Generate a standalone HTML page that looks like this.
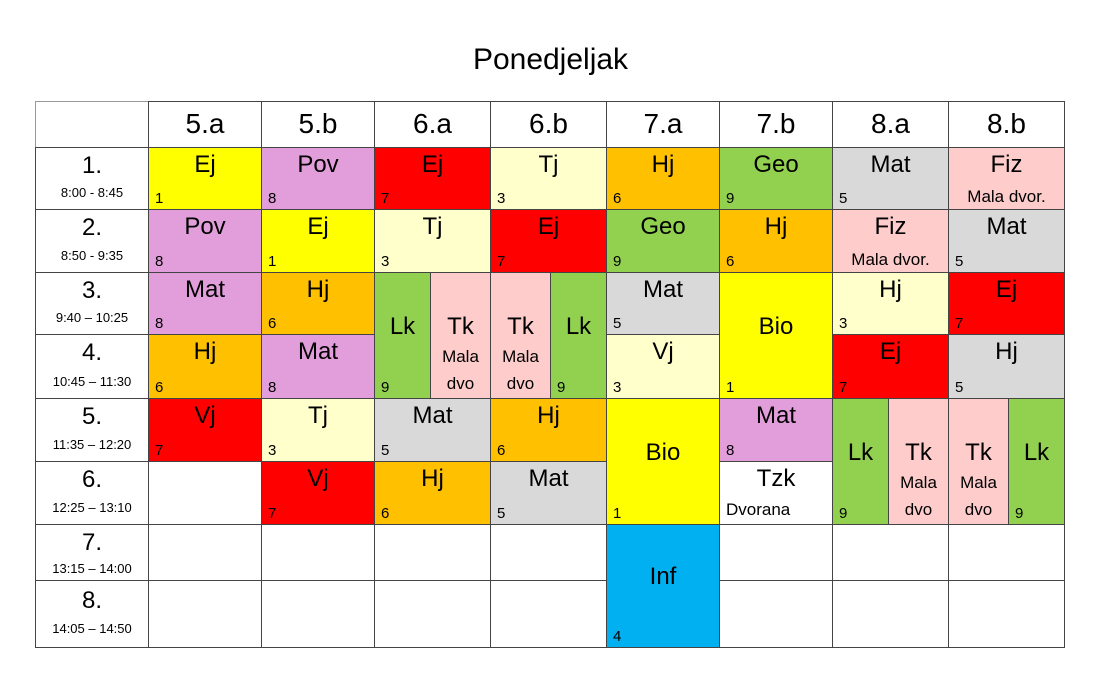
<!DOCTYPE html>
<html><head><meta charset="utf-8"><style>
body{margin:0;width:1101px;height:694px;background:#fff;font-family:"Liberation Sans",sans-serif;position:relative;overflow:hidden}
.c{position:absolute;box-sizing:border-box;border:1px solid #444;color:#000}
.t{position:absolute;left:0;right:0;text-align:center;font-size:24px;line-height:28px;top:3px}
.n{position:absolute;left:6px;bottom:2px;font-size:15px;line-height:17px}
.s{position:absolute;left:0;right:0;text-align:center;font-size:17px;line-height:20px}
.h{font-size:28px;line-height:44px;text-align:center}
.y{background:#ffff00}.p{background:#e29eda}.r{background:#ff0000}.ly{background:#ffffcc}.o{background:#ffc000}.g{background:#92d050}.gr{background:#d9d9d9}.lp{background:#ffcccc}.b{background:#00b0f0}
.tm .t{top:4px}
.tm .s{font-size:13px;bottom:6px}
</style></head><body>
<div style="position:absolute;left:0;width:1101px;top:43px;text-align:center;font-size:30px">Ponedjeljak</div>
<div style="position:absolute;left:35px;top:101px;width:1030px;height:547px;border:1px solid #999;box-sizing:border-box"></div>

<div class="c" style="left:35px;top:101px;width:114px;height:47px;border-color:#999"></div>
<div class="c h" style="left:148px;top:101px;width:114px;height:47px">5.a</div>
<div class="c h" style="left:261px;top:101px;width:114px;height:47px">5.b</div>
<div class="c h" style="left:374px;top:101px;width:117px;height:47px">6.a</div>
<div class="c h" style="left:490px;top:101px;width:117px;height:47px">6.b</div>
<div class="c h" style="left:606px;top:101px;width:114px;height:47px">7.a</div>
<div class="c h" style="left:719px;top:101px;width:114px;height:47px">7.b</div>
<div class="c h" style="left:832px;top:101px;width:117px;height:47px">8.a</div>
<div class="c h" style="left:948px;top:101px;width:117px;height:47px">8.b</div>

<div class="c tm" style="left:35px;top:147px;width:114px;height:63px"><div class="t">1.</div><div class="s" style="bottom:6px">8:00 - 8:45</div></div>
<div class="c tm" style="left:35px;top:209px;width:114px;height:64px"><div class="t">2.</div><div class="s" style="bottom:6px">8:50 - 9:35</div></div>
<div class="c tm" style="left:35px;top:272px;width:114px;height:63px"><div class="t">3.</div><div class="s" style="bottom:6px">9:40 – 10:25</div></div>
<div class="c tm" style="left:35px;top:334px;width:114px;height:65px"><div class="t">4.</div><div class="s" style="bottom:6px">10:45 – 11:30</div></div>
<div class="c tm" style="left:35px;top:398px;width:114px;height:64px"><div class="t">5.</div><div class="s" style="bottom:6px">11:35 – 12:20</div></div>
<div class="c tm" style="left:35px;top:461px;width:114px;height:64px"><div class="t">6.</div><div class="s" style="bottom:6px">12:25 – 13:10</div></div>
<div class="c tm" style="left:35px;top:524px;width:114px;height:57px"><div class="t">7.</div><div class="s" style="bottom:1px">13:15 – 14:00</div></div>
<div class="c tm" style="left:35px;top:580px;width:114px;height:68px"><div class="t" style="top:6px">8.</div><div class="s" style="bottom:8px">14:05 – 14:50</div></div>

<div class="c y" style="left:148px;top:147px;width:114px;height:63px"><div class="t">Ej</div><div class="n">1</div></div>
<div class="c p" style="left:261px;top:147px;width:114px;height:63px"><div class="t">Pov</div><div class="n">8</div></div>
<div class="c r" style="left:374px;top:147px;width:117px;height:63px"><div class="t">Ej</div><div class="n">7</div></div>
<div class="c ly" style="left:490px;top:147px;width:117px;height:63px"><div class="t">Tj</div><div class="n">3</div></div>
<div class="c o" style="left:606px;top:147px;width:114px;height:63px"><div class="t">Hj</div><div class="n">6</div></div>
<div class="c g" style="left:719px;top:147px;width:114px;height:63px"><div class="t">Geo</div><div class="n">9</div></div>
<div class="c gr" style="left:832px;top:147px;width:117px;height:63px"><div class="t">Mat</div><div class="n">5</div></div>
<div class="c lp" style="left:948px;top:147px;width:117px;height:63px"><div class="t">Fiz</div><div class="s" style="bottom:2px">Mala dvor.</div></div>
<div class="c p" style="left:148px;top:209px;width:114px;height:64px"><div class="t">Pov</div><div class="n">8</div></div>
<div class="c y" style="left:261px;top:209px;width:114px;height:64px"><div class="t">Ej</div><div class="n">1</div></div>
<div class="c ly" style="left:374px;top:209px;width:117px;height:64px"><div class="t">Tj</div><div class="n">3</div></div>
<div class="c r" style="left:490px;top:209px;width:117px;height:64px"><div class="t">Ej</div><div class="n">7</div></div>
<div class="c g" style="left:606px;top:209px;width:114px;height:64px"><div class="t">Geo</div><div class="n">9</div></div>
<div class="c o" style="left:719px;top:209px;width:114px;height:64px"><div class="t">Hj</div><div class="n">6</div></div>
<div class="c lp" style="left:832px;top:209px;width:117px;height:64px"><div class="t">Fiz</div><div class="s" style="bottom:2px">Mala dvor.</div></div>
<div class="c gr" style="left:948px;top:209px;width:117px;height:64px"><div class="t">Mat</div><div class="n">5</div></div>
<div class="c p" style="left:148px;top:272px;width:114px;height:63px"><div class="t">Mat</div><div class="n">8</div></div>
<div class="c o" style="left:261px;top:272px;width:114px;height:63px"><div class="t">Hj</div><div class="n">6</div></div>
<div class="c g" style="left:374px;top:272px;width:57px;height:127px"><div class="t" style="top:40px">Lk</div><div class="n">9</div></div>
<div class="c lp" style="left:430px;top:272px;width:61px;height:127px"><div class="t" style="top:40px">Tk</div><div class="s" style="top:74px">Mala</div><div class="s" style="top:101px">dvo</div></div>
<div class="c lp" style="left:490px;top:272px;width:61px;height:127px"><div class="t" style="top:40px">Tk</div><div class="s" style="top:74px">Mala</div><div class="s" style="top:101px">dvo</div></div>
<div class="c g" style="left:550px;top:272px;width:57px;height:127px"><div class="t" style="top:40px">Lk</div><div class="n">9</div></div>
<div class="c gr" style="left:606px;top:272px;width:114px;height:63px"><div class="t">Mat</div><div class="n">5</div></div>
<div class="c y" style="left:719px;top:272px;width:114px;height:127px"><div class="t" style="top:40px">Bio</div><div class="n">1</div></div>
<div class="c ly" style="left:832px;top:272px;width:117px;height:63px"><div class="t">Hj</div><div class="n">3</div></div>
<div class="c r" style="left:948px;top:272px;width:117px;height:63px"><div class="t">Ej</div><div class="n">7</div></div>
<div class="c o" style="left:148px;top:334px;width:114px;height:65px"><div class="t">Hj</div><div class="n">6</div></div>
<div class="c p" style="left:261px;top:334px;width:114px;height:65px"><div class="t">Mat</div><div class="n">8</div></div>
<div class="c ly" style="left:606px;top:334px;width:114px;height:65px"><div class="t">Vj</div><div class="n">3</div></div>
<div class="c r" style="left:832px;top:334px;width:117px;height:65px"><div class="t">Ej</div><div class="n">7</div></div>
<div class="c gr" style="left:948px;top:334px;width:117px;height:65px"><div class="t">Hj</div><div class="n">5</div></div>
<div class="c r" style="left:148px;top:398px;width:114px;height:64px"><div class="t">Vj</div><div class="n">7</div></div>
<div class="c ly" style="left:261px;top:398px;width:114px;height:64px"><div class="t">Tj</div><div class="n">3</div></div>
<div class="c gr" style="left:374px;top:398px;width:117px;height:64px"><div class="t">Mat</div><div class="n">5</div></div>
<div class="c o" style="left:490px;top:398px;width:117px;height:64px"><div class="t">Hj</div><div class="n">6</div></div>
<div class="c y" style="left:606px;top:398px;width:114px;height:127px"><div class="t" style="top:40px">Bio</div><div class="n">1</div></div>
<div class="c p" style="left:719px;top:398px;width:114px;height:64px"><div class="t">Mat</div><div class="n">8</div></div>
<div class="c g" style="left:832px;top:398px;width:57px;height:127px"><div class="t" style="top:40px">Lk</div><div class="n">9</div></div>
<div class="c lp" style="left:888px;top:398px;width:61px;height:127px"><div class="t" style="top:40px">Tk</div><div class="s" style="top:74px">Mala</div><div class="s" style="top:101px">dvo</div></div>
<div class="c lp" style="left:948px;top:398px;width:61px;height:127px"><div class="t" style="top:40px">Tk</div><div class="s" style="top:74px">Mala</div><div class="s" style="top:101px">dvo</div></div>
<div class="c g" style="left:1008px;top:398px;width:57px;height:127px"><div class="t" style="top:40px">Lk</div><div class="n">9</div></div>
<div class="c" style="left:148px;top:461px;width:114px;height:64px"></div>
<div class="c r" style="left:261px;top:461px;width:114px;height:64px"><div class="t">Vj</div><div class="n">7</div></div>
<div class="c o" style="left:374px;top:461px;width:117px;height:64px"><div class="t">Hj</div><div class="n">6</div></div>
<div class="c gr" style="left:490px;top:461px;width:117px;height:64px"><div class="t">Mat</div><div class="n">5</div></div>
<div class="c" style="left:719px;top:461px;width:114px;height:64px"><div class="t">Tzk</div><div class="s" style="left:6px;text-align:left;bottom:4px">Dvorana</div></div>
<div class="c" style="left:148px;top:524px;width:114px;height:57px"></div>
<div class="c" style="left:261px;top:524px;width:114px;height:57px"></div>
<div class="c" style="left:374px;top:524px;width:117px;height:57px"></div>
<div class="c" style="left:490px;top:524px;width:117px;height:57px"></div>
<div class="c" style="left:719px;top:524px;width:114px;height:57px"></div>
<div class="c" style="left:832px;top:524px;width:117px;height:57px"></div>
<div class="c" style="left:948px;top:524px;width:117px;height:57px"></div>
<div class="c" style="left:148px;top:580px;width:114px;height:68px"></div>
<div class="c" style="left:261px;top:580px;width:114px;height:68px"></div>
<div class="c" style="left:374px;top:580px;width:117px;height:68px"></div>
<div class="c" style="left:490px;top:580px;width:117px;height:68px"></div>
<div class="c" style="left:719px;top:580px;width:114px;height:68px"></div>
<div class="c" style="left:832px;top:580px;width:117px;height:68px"></div>
<div class="c" style="left:948px;top:580px;width:117px;height:68px"></div>
<div class="c b" style="left:606px;top:524px;width:114px;height:124px"><div class="t" style="top:38px">Inf</div><div class="n">4</div></div>
</body></html>
